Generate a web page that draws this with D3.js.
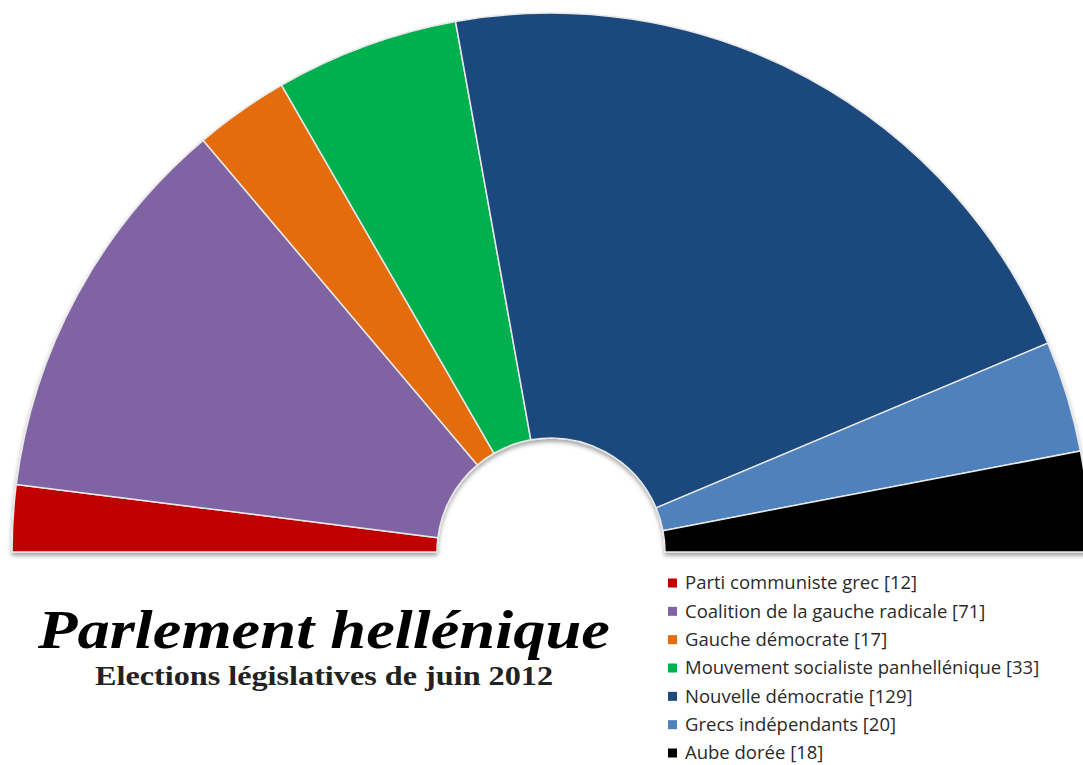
<!DOCTYPE html>
<html><head><meta charset="utf-8">
<script src="https://cdn.jsdelivr.net/npm/d3@7"></script>
<style>body{margin:0;background:#fff}svg{display:block}</style>
</head><body>
<svg id="c" width="1083" height="765"></svg>
<script>
const parties = ["Parti communiste grec","Coalition de la gauche radicale","Gauche démocrate","Mouvement socialiste panhellénique","Nouvelle démocratie","Grecs indépendants","Aube dorée"];
const seats = [12,71,17,33,129,20,18];
const colors = ["#C00000","#8064A2","#E46C0A","#00B050","#1F497D","#4F81BD","#000000"];
const title = "Parlement hellénique";
const subtitle = "Elections législatives de juin 2012";

const svg = d3.select("#c");
const defs = svg.append("defs");
const f = defs.append("filter").attr("id","sh").attr("x","-10%").attr("y","-10%").attr("width","120%").attr("height","120%");
f.append("feDropShadow").attr("dx",0).attr("dy",3).attr("stdDeviation",2).attr("flood-color","#000").attr("flood-opacity",0.35);

const cx = 551, cy = 552, rOuter = 539, rInner = 114;
const pie = d3.pie().sort(null).value(d=>d).startAngle(-Math.PI/2).endAngle(Math.PI/2);
const arc = d3.arc().innerRadius(rInner).outerRadius(rOuter);
const g = svg.append("g").attr("transform",`translate(${cx},${cy})`).attr("filter","url(#sh)");
g.selectAll("path").data(pie(seats)).join("path")
  .attr("d",arc).attr("fill",(d,i)=>colors[i])
  .attr("stroke","#e8e8e8").attr("stroke-width",1.5).attr("stroke-linejoin","round");

svg.append("text").attr("x",324).attr("y",648).attr("text-anchor","middle")
  .attr("font-family","'Liberation Serif','DejaVu Serif',serif").attr("font-weight","bold").attr("font-style","italic")
  .attr("font-size",54).attr("textLength",572).attr("lengthAdjust","spacingAndGlyphs").attr("fill","#000").text(title);
svg.append("text").attr("x",324).attr("y",685).attr("text-anchor","middle")
  .attr("font-family","'Liberation Serif','DejaVu Serif',serif").attr("font-weight","bold")
  .attr("font-size",27).attr("textLength",458).attr("lengthAdjust","spacingAndGlyphs").attr("fill","#222").text(subtitle);

const leg = svg.append("g");
const rowY = d3.scalePoint().domain(d3.range(parties.length)).range([583,753]);
const items = leg.selectAll("g").data(parties).join("g").attr("transform",(d,i)=>`translate(668,${rowY(i)})`);
items.append("rect").attr("x",0).attr("y",-4.5).attr("width",9).attr("height",9).attr("fill",(d,i)=>colors[i]);
items.append("text").attr("x",17).attr("y",0).attr("dy","0.35em")
  .attr("font-family","'Open Sans','Noto Sans',sans-serif").attr("font-size",18.5).attr("fill","#2a2a2a")
  .text((d,i)=>`${d} [${seats[i]}]`);
</script>
</body></html>
